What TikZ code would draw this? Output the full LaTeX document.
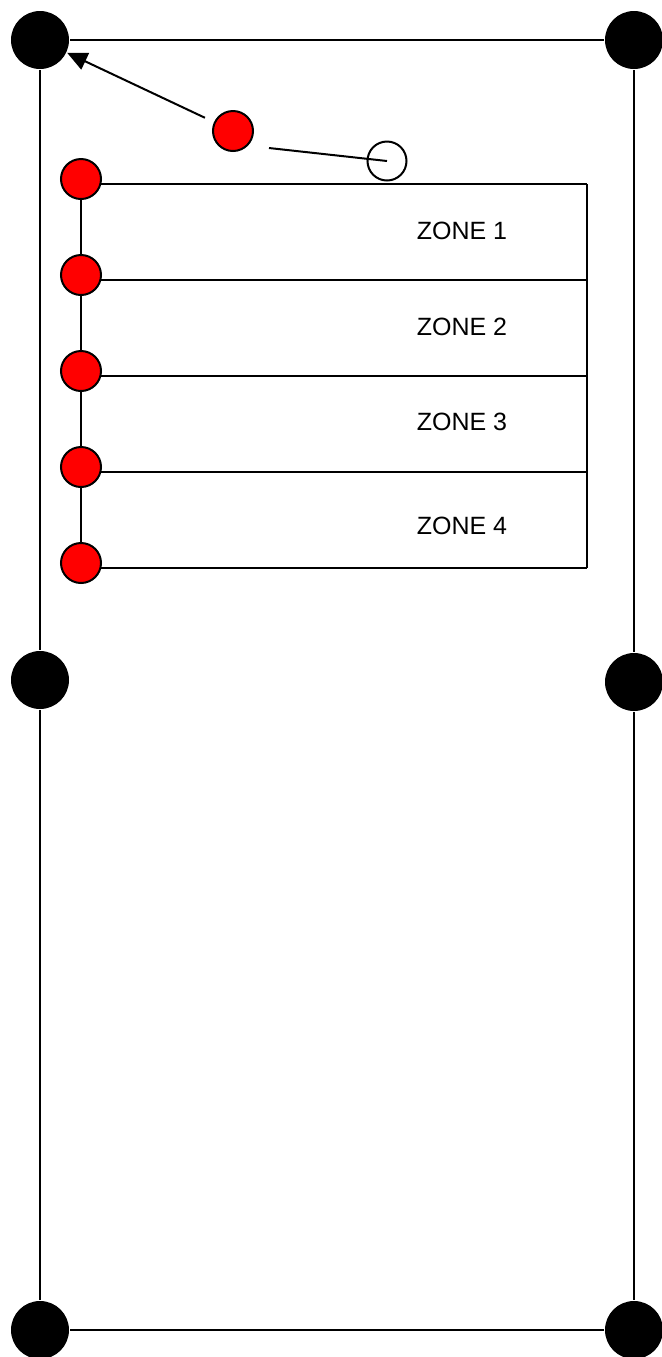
\documentclass[tikz,border=0pt]{standalone}
\usepackage{fontspec}
\setmainfont{Liberation Sans}
\usetikzlibrary{arrows.meta}
\begin{document}
\begin{tikzpicture}[x=0.5pt,y=-0.5pt,>={Triangle[length=10pt,width=9pt]},line width=1pt]
    \tikzstyle{post}=[circle, fill=black, inner sep=0pt, minimum size=29pt]
    \tikzstyle{valve}=[circle, draw, fill=red, inner sep=0pt, minimum size=20pt]
    \tikzstyle{sensor}=[circle, draw, inner sep=0pt, minimum size=19.5pt]
    \tikzstyle{zonelabel}=[font=\fontsize{12.5}{15}\selectfont]
    \useasboundingbox (0,0) rectangle (661,1357);
    % outer frame
    \node[post] (tl) at (40,40) {};
    \node[post] (tr) at (634,40) {};
    \node[post] (ml) at (40,680) {};
    \node[post] (mr) at (634,682) {};
    \node[post] (bl) at (40,1330) {};
    \node[post] (br) at (634,1330) {};
    \draw (tl) -- (tr) -- (mr) -- (br) -- (bl) -- (ml) -- (tl);
    % zones
    \coordinate (edge) at (587,0);
    \foreach \i/\y in {1/179,2/275,3/371,4/467,5/563}
      \node[valve] (v\i) at (81,\y) {};
    \draw (v1) -- (v2) -- (v3) -- (v4) -- (v5);
    \foreach \i in {1,...,5} {
      \coordinate (z\i) at (v\i.-15 -| edge);
      \draw (v\i.-15) -- (z\i);
    }
    \draw (z1) -- (z5);
    \foreach \i/\y in {1/231,2/327,3/422,4/526}
      \node[zonelabel] (lab\i) at (462,\y) {ZONE \i};
    % detector
    \node[valve] (det) at (233,131) {};
    \node[sensor] (probe) at (387,161) {};
    \coordinate (lead) at (269,148);
    \draw[->, shorten <=5pt] (det) -- (tl);
    \draw (lead) -- (probe.center);
\end{tikzpicture}
\end{document}
